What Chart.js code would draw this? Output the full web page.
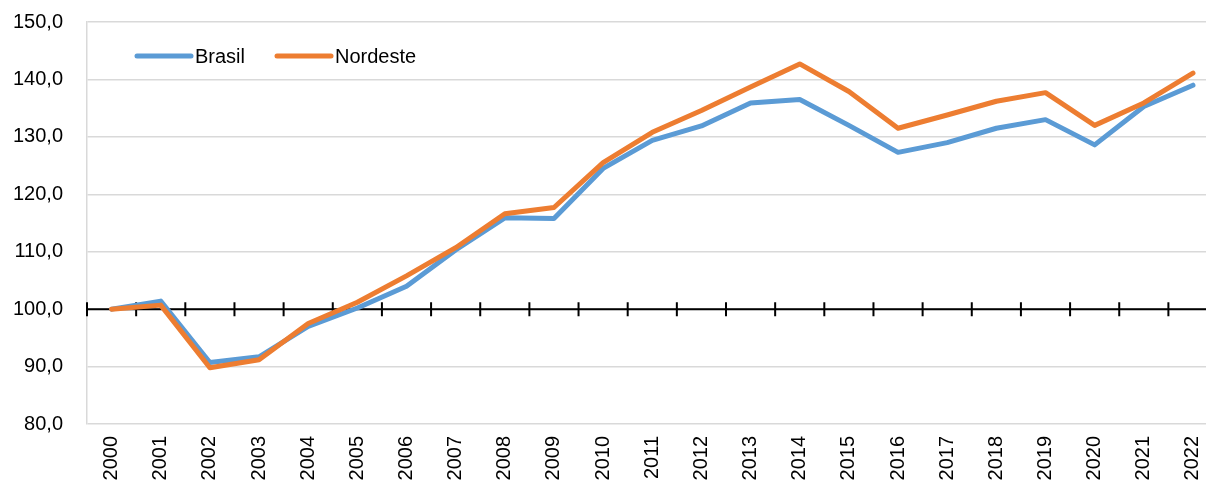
<!DOCTYPE html>
<html lang="pt-BR">
<head>
<meta charset="utf-8">
<title>Brasil x Nordeste</title>
<script src="https://cdn.jsdelivr.net/npm/chart.js@4.4.1/dist/chart.umd.min.js"></script>
<style>
    html, body { margin: 0; padding: 0; background: #fff; overflow: hidden; }
    .chart-box { position: relative; width: 1221px; height: 488px; }
</style>
</head>
<body>
<div class="chart-box">
    <canvas id="indexChart"></canvas>
</div>
<script>
const years = ['2000', '2001', '2002', '2003', '2004', '2005', '2006', '2007', '2008', '2009', '2010', '2011',
    '2012', '2013', '2014', '2015', '2016', '2017', '2018', '2019', '2020', '2021', '2022'];
const brasil = [100.0, 101.4, 90.7, 91.7, 97.0, 100.2, 104.0, 110.3, 115.9, 115.8, 124.5, 129.4,
    131.9, 135.9, 136.5, 132.0, 127.3, 129.0, 131.5, 133.0, 128.6, 135.3, 139.0];
const nordeste = [100.0, 100.7, 89.8, 91.2, 97.5, 101.2, 105.8, 110.7, 116.6, 117.7, 125.5, 130.8,
    134.6, 138.7, 142.7, 137.9, 131.5, 133.8, 136.2, 137.7, 132.0, 135.9, 141.1];
const yTicks = [80, 90, 100, 110, 120, 130, 140, 150];
const baseLine = 100;

const FONT = "'Liberation Sans', Arial, sans-serif";
const BLUE = '#5B9BD5';
const ORANGE = '#ED7D31';

// black axis at 100 with crossing tick marks between the years
const baseAxis = {
    id: 'baseAxis',
    beforeDatasetsDraw(chart) {
        const { ctx, chartArea, scales: { x, y } } = chart;
        const yPos = y.getPixelForValue(baseLine);
        const step = x.getPixelForValue(1) - x.getPixelForValue(0);
        ctx.save();
        ctx.strokeStyle = '#000';
        ctx.lineWidth = 2;
        ctx.beginPath();
        ctx.moveTo(chartArea.left, yPos);
        ctx.lineTo(chartArea.right, yPos);
        for (let i = 0; i <= years.length; i++) {
            const xPos = x.getPixelForValue(i) - step / 2;
            ctx.moveTo(xPos, yPos - 7);
            ctx.lineTo(xPos, yPos + 7);
        }
        ctx.stroke();
        ctx.restore();
    }
};

// legend drawn inside the plot, top left
const innerLegend = {
    id: 'innerLegend',
    afterDatasetsDraw(chart) {
        const { ctx, chartArea } = chart;
        let xPos = chartArea.left + 50;
        const yPos = chartArea.top + 34;
        ctx.save();
        ctx.font = '20px ' + FONT;
        ctx.textBaseline = 'middle';
        ctx.lineCap = 'round';
        chart.data.datasets.forEach(ds => {
            ctx.strokeStyle = ds.borderColor;
            ctx.lineWidth = 5;
            ctx.beginPath();
            ctx.moveTo(xPos, yPos);
            ctx.lineTo(xPos + 54, yPos);
            ctx.stroke();
            ctx.fillStyle = '#000';
            ctx.fillText(ds.label, xPos + 58, yPos + 1);
            xPos += 58 + ctx.measureText(ds.label).width + 32;
        });
        ctx.restore();
    }
};

function createIndexChart() {
    const ctx = document.getElementById('indexChart').getContext('2d');
    new Chart(ctx, {
        type: 'line',
        data: {
            labels: years,
            datasets: [{
                label: 'Brasil',
                data: brasil,
                borderColor: BLUE,
                borderWidth: 5,
                order: 1
            }, {
                label: 'Nordeste',
                data: nordeste,
                borderColor: ORANGE,
                borderWidth: 5,
                order: 0
            }]
        },
        options: {
            responsive: true,
            maintainAspectRatio: false,
            animation: false,
            elements: {
                point: { radius: 0 },
                line: { tension: 0, borderCapStyle: 'round', borderJoinStyle: 'round' }
            },
            layout: { padding: { top: 22, right: 1.5, left: 0, bottom: 0 } },
            plugins: {
                legend: { display: false },
                tooltip: { enabled: false }
            },
            scales: {
                x: {
                    offset: true,
                    grid: { display: false },
                    border: { display: false },
                    ticks: {
                        color: '#000',
                        font: { family: FONT, size: 20 },
                        minRotation: 90,
                        maxRotation: 90,
                        padding: 4,
                        autoSkip: false
                    },
                    afterFit(scale) { scale.height = 64; }
                },
                y: {
                    min: 80,
                    max: 150,
                    afterBuildTicks(scale) {
                        scale.ticks = yTicks.map(v => ({ value: v }));
                    },
                    grid: { color: '#d9d9d9', lineWidth: 1.5, drawTicks: false },
                    border: { color: '#d9d9d9', width: 1.5 },
                    ticks: {
                        color: '#000',
                        font: { family: FONT, size: 20 },
                        padding: 24,
                        callback: v => v.toFixed(1).replace('.', ',')
                    },
                    afterFit(scale) {
                        scale.width = 87;
                        scale.paddingTop = 0;
                        scale.paddingBottom = 0;
                    }
                }
            }
        },
        plugins: [baseAxis, innerLegend]
    });
}

document.addEventListener('DOMContentLoaded', () => {
    createIndexChart();
});
</script>
</body>
</html>
